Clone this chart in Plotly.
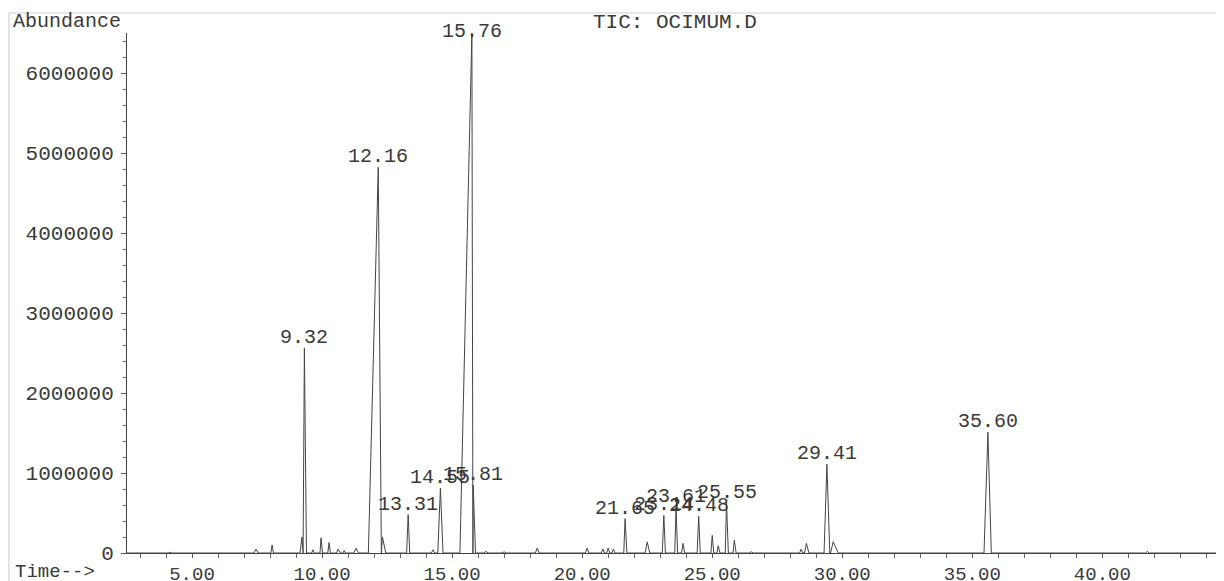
import plotly.graph_objects as go

# Peak table (retention time in min, abundance)
peak_rt = [4.15, 7.46, 8.08, 9.23, 9.32, 9.65, 9.96, 10.27, 10.62, 10.85, 11.31,
           12.16, 12.32, 13.31, 14.27, 14.55, 15.76, 15.81, 16.30, 17.00, 18.27,
           20.19, 20.80, 21.00, 21.20, 21.65, 22.50, 23.14, 23.61, 23.88, 24.48,
           25.00, 25.23, 25.55, 25.85, 26.50, 28.42, 28.62, 29.41, 29.65, 35.60, 41.73]
peak_height = [10000, 50000, 100000, 200000, 2560000, 40000, 190000, 130000, 50000, 30000, 60000,
               4820000, 200000, 480000, 40000, 810000, 6500000, 850000, 20000, 15000, 60000,
               60000, 50000, 60000, 50000, 430000, 140000, 470000, 580000, 120000, 460000,
               220000, 90000, 630000, 160000, 15000, 50000, 120000, 1110000, 140000, 1510000, 20000]
peak_start = [4.08, 7.38, 8.03, 9.15, 9.27, 9.60, 9.92, 10.22, 10.55, 10.80, 11.22,
              11.78, 12.28, 13.25, 14.20, 14.45, 15.30, 15.80, 16.22, 16.92, 18.20,
              20.12, 20.74, 20.94, 21.14, 21.60, 22.42, 23.08, 23.56, 23.82, 24.42,
              24.95, 25.18, 25.50, 25.80, 26.42, 28.36, 28.55, 29.30, 29.55, 35.45, 41.66]
peak_end = [4.22, 7.54, 8.13, 9.27, 9.40, 9.70, 10.02, 10.32, 10.70, 10.90, 11.40,
            12.28, 12.45, 13.37, 14.33, 14.65, 15.80, 15.90, 16.38, 17.08, 18.35,
            20.26, 20.86, 21.06, 21.26, 21.72, 22.60, 23.20, 23.67, 23.94, 24.54,
            25.06, 25.30, 25.62, 25.92, 26.58, 28.48, 28.72, 29.52, 29.85, 35.73, 41.80]

# Labelled peaks
label_text = ["9.32", "12.16", "13.31", "14.55", "15.76", "15.81", "21.65", "23.14",
              "23.61", "24.48", "25.55", "29.41", "35.60"]
label_rt = [9.32, 12.16, 13.31, 14.55, 15.76, 15.81, 21.65, 23.14, 23.61, 24.48, 25.55, 29.41, 35.60]
label_height = [2560000, 4820000, 480000, 810000, 6500000, 850000, 430000, 470000,
                580000, 460000, 630000, 1110000, 1510000]

x_ticks = [5, 10, 15, 20, 25, 30, 35, 40]
x_ticktext = ["5.00", "10.00", "15.00", "20.00", "25.00", "30.00", "35.00", "40.00"]
y_ticks = [0, 1000000, 2000000, 3000000, 4000000, 5000000, 6000000]

Y_MAX = 6500000
FONT = "Liberation Mono, Courier New, monospace"
INK = "#3a3a3a"

# Build the trace from the peak table (baseline -> apex -> baseline)
xs = [2.5]
ys = [0]
for s, t, h, e in sorted(zip(peak_start, peak_rt, peak_height, peak_end)):
    xs += [s, t, e]
    ys += [0, h, 0]
xs.append(44.6)
ys.append(0)

fig = go.Figure()
fig.add_trace(go.Scatter(x=xs, y=ys, mode="lines",
                         line=dict(color="#454545", width=1), hoverinfo="skip",
                         showlegend=False))

for txt, t, h in zip(label_text, label_rt, label_height):
    # a label whose peak reaches the top of the frame is clamped onto the frame top
    shift = -12 if h >= Y_MAX * 0.99 else -3
    fig.add_annotation(x=t, y=h, text=txt, showarrow=False, xanchor="center",
                       yanchor="bottom", yshift=shift,
                       font=dict(family=FONT, size=20, color=INK))

fig.add_annotation(xref="paper", yref="paper", x=0, y=1, xanchor="left", yanchor="middle",
                   xshift=-116, yshift=12, text="Abundance", showarrow=False,
                   font=dict(family=FONT, size=20, color=INK))
fig.add_annotation(xref="paper", yref="paper", x=0.5, y=1, xanchor="center", yanchor="middle",
                   yshift=11, text="TIC: OCIMUM.D", showarrow=False,
                   font=dict(family=FONT, size=21, color=INK))
fig.add_annotation(xref="paper", yref="paper", x=0, y=0, xanchor="left", yanchor="middle",
                   xshift=-114, yshift=-19, text="Time-->", showarrow=False,
                   font=dict(family=FONT, size=19, color=INK))

# faint scan border lines
fig.add_shape(type="line", xref="paper", yref="paper", x0=-0.1078, x1=1.002,
              y0=1.0385, y1=1.0385, line=dict(color="#d0d0d0", width=1))
fig.add_shape(type="line", xref="paper", yref="paper", x0=-0.1078, x1=-0.1078,
              y0=-0.054, y1=1.0385, line=dict(color="#c8c8c8", width=1))

fig.update_xaxes(range=[2.5, 44.6], tickmode="array", tickvals=x_ticks, ticktext=x_ticktext,
                 ticks="outside", ticklen=3, tickcolor="#555", tickwidth=1,
                 minor=dict(dtick=1, tick0=0, ticks="outside", ticklen=4, tickcolor="#666"),
                 showline=True, linecolor="#444", linewidth=1, showgrid=False, zeroline=False,
                 automargin=False,
                 tickfont=dict(family=FONT, size=19, color=INK), ticklabelstandoff=0)
fig.update_yaxes(range=[0, Y_MAX], tickmode="array", tickvals=y_ticks,
                 ticktext=[str(v) for v in y_ticks],
                 ticks="outside", ticklen=5, tickcolor="#555", tickwidth=1,
                 minor=dict(dtick=200000, tick0=0, ticks="outside", ticklen=3, tickcolor="#666"),
                 showline=True, linecolor="#444", linewidth=1, showgrid=False, zeroline=False,
                 automargin=False,
                 tickfont=dict(family=FONT, size=21, color=INK), ticklabelstandoff=3)

# the page adds an 8 px body margin, so the figure is sized to fit the remaining window
fig.update_layout(width=1216, height=573, margin=dict(l=119, r=2, t=25, b=28),
                  plot_bgcolor="white", paper_bgcolor="white")

fig.write_html("out.html")
